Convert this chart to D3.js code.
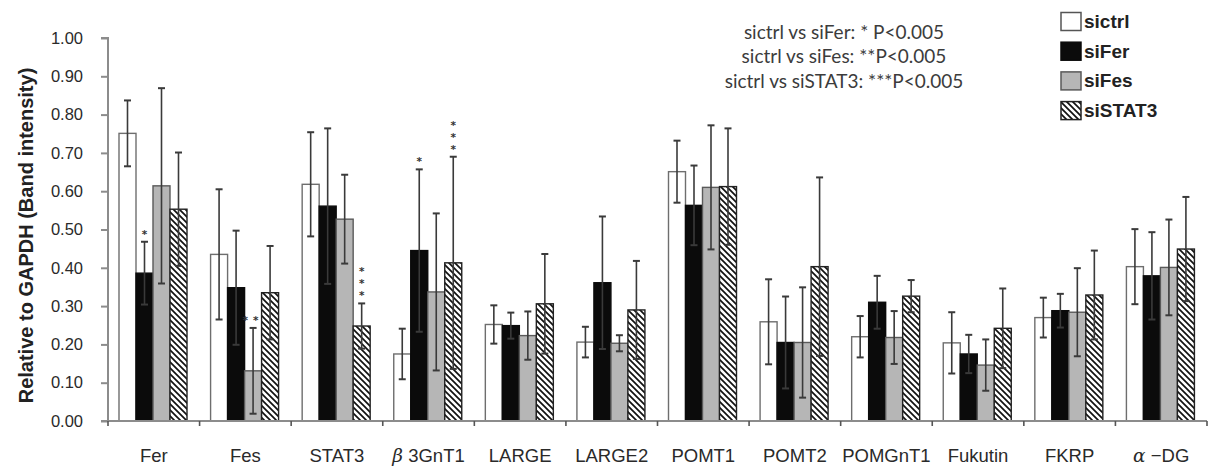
<!DOCTYPE html>
<html>
<head>
<meta charset="utf-8">
<script src="https://cdn.jsdelivr.net/npm/d3@7"></script>
<style>
  html, body { margin: 0; padding: 0; background: #fff; }
  svg { display: block; }
</style>
</head>
<body>
<svg id="chart" width="1211" height="466"></svg>
<script>
// Gene knockdown panel: band intensity relative to GAPDH, mean ± error
const categories = ["Fer", "Fes", "STAT3", "β3GnT1", "LARGE", "LARGE2", "POMT1", "POMT2", "POMGnT1", "Fukutin", "FKRP", "α-DG"];
const seriesNames = ["sictrl", "siFer", "siFes", "siSTAT3"];

const sictrl    = [0.751, 0.435, 0.618, 0.175, 0.252, 0.206, 0.651, 0.259, 0.220, 0.204, 0.270, 0.403];
const sictrlErr = [0.086, 0.170, 0.136, 0.066, 0.050, 0.040, 0.081, 0.111, 0.054, 0.080, 0.052, 0.098];
const siFer     = [0.386, 0.348, 0.561, 0.445, 0.249, 0.361, 0.563, 0.205, 0.310, 0.175, 0.288, 0.379];
const siFerErr  = [0.082, 0.149, 0.203, 0.212, 0.034, 0.173, 0.104, 0.120, 0.069, 0.050, 0.044, 0.114];
const siFes     = [0.614, 0.131, 0.527, 0.337, 0.223, 0.203, 0.610, 0.205, 0.218, 0.146, 0.284, 0.401];
const siFesErr  = [0.255, 0.112, 0.116, 0.205, 0.063, 0.021, 0.162, 0.144, 0.069, 0.067, 0.115, 0.125];
const siSTAT3   = [0.553, 0.335, 0.248, 0.413, 0.306, 0.290, 0.612, 0.403, 0.326, 0.242, 0.329, 0.449];
const siSTAT3Err= [0.148, 0.122, 0.059, 0.277, 0.130, 0.128, 0.152, 0.233, 0.042, 0.104, 0.116, 0.136];

const yTicks = [0, 0.1, 0.2, 0.3, 0.4, 0.5, 0.6, 0.7, 0.8, 0.9, 1.0];

// significance marks: category, series, star count, stacking
const marks = [
  { cat: "Fer",    series: "siFer",   stars: 1, stack: "h" },
  { cat: "Fes",    series: "siFes",   stars: 2, stack: "h" },
  { cat: "STAT3",  series: "siSTAT3", stars: 3, stack: "v" },
  { cat: "β3GnT1", series: "siFer",   stars: 1, stack: "h" },
  { cat: "β3GnT1", series: "siSTAT3", stars: 3, stack: "v" }
];

const noteLines = [
  "sictrl vs siFer: * P<0.005",
  "sictrl vs siFes: **P<0.005",
  "sictrl vs siSTAT3: ***P<0.005"
];

const means = { sictrl: sictrl, siFer: siFer, siFes: siFes, siSTAT3: siSTAT3 };
const errs  = { sictrl: sictrlErr, siFer: siFerErr, siFes: siFesErr, siSTAT3: siSTAT3Err };

const rows = [];
categories.forEach((c, i) => {
  seriesNames.forEach(s => rows.push({ cat: c, series: s, v: means[s][i], e: errs[s][i] }));
});

const svg = d3.select("#chart");
const plotLeft = 108, plotRight = 1207, plotTop = 38, plotBottom = 421;

const y = d3.scaleLinear().domain([0, 1]).range([plotBottom, plotTop]);
const x0 = d3.scaleBand().domain(categories).range([plotLeft, plotRight]).padding(0);
const x1 = d3.scaleBand().domain(seriesNames).range([11, 79]).padding(0);

// fills
const defs = svg.append("defs");
const pat = defs.append("pattern")
  .attr("id", "hatch").attr("patternUnits", "userSpaceOnUse")
  .attr("width", 6).attr("height", 6);
pat.append("rect").attr("width", 6).attr("height", 6).attr("fill", "#fff");
pat.append("path")
  .attr("d", "M0,0 L6,6 M-3,3 L3,9 M3,-3 L9,3")
  .attr("stroke", "#111").attr("stroke-width", 1.7);

const style = {
  sictrl:  { fill: "#ffffff", stroke: "#6e6e6e" },
  siFer:   { fill: "#0b0b0b", stroke: "#0b0b0b" },
  siFes:   { fill: "#b6b6b6", stroke: "#5a5a5a" },
  siSTAT3: { fill: "url(#hatch)", stroke: "#222" }
};

// bars
svg.append("g").selectAll("rect").data(rows).join("rect")
  .attr("x", d => x0(d.cat) + x1(d.series))
  .attr("y", d => y(d.v))
  .attr("width", x1.bandwidth())
  .attr("height", d => y(0) - y(d.v))
  .attr("fill", d => style[d.series].fill)
  .attr("stroke", d => style[d.series].stroke)
  .attr("stroke-width", 1.4);

// error bars
const eb = svg.append("g").attr("stroke", "#3a3a3a");
const cx = d => x0(d.cat) + x1(d.series) + x1.bandwidth() / 2;
eb.selectAll("line.w").data(rows).join("line").attr("class", "w")
  .attr("x1", cx).attr("x2", cx)
  .attr("y1", d => y(d.v + d.e)).attr("y2", d => y(Math.max(0, d.v - d.e)))
  .attr("stroke-width", 1.6);
eb.selectAll("line.t").data(rows).join("line").attr("class", "t")
  .attr("x1", d => cx(d) - 3.5).attr("x2", d => cx(d) + 3.5)
  .attr("y1", d => y(d.v + d.e)).attr("y2", d => y(d.v + d.e))
  .attr("stroke-width", 2);
eb.selectAll("line.b").data(rows).join("line").attr("class", "b")
  .attr("x1", d => cx(d) - 3.5).attr("x2", d => cx(d) + 3.5)
  .attr("y1", d => y(Math.max(0, d.v - d.e))).attr("y2", d => y(Math.max(0, d.v - d.e)))
  .attr("stroke-width", 2);

// axes
const axisColor = "#8c8c8c";
const yAxis = svg.append("g").attr("transform", `translate(${plotLeft},0)`)
  .call(d3.axisLeft(y).tickValues(yTicks).tickFormat(d3.format(".2f")).tickSize(7).tickPadding(18));
yAxis.select(".domain").attr("stroke", axisColor).attr("stroke-width", 2)
  .attr("d", `M-7,${plotTop}H0V${plotBottom}H-7`);
yAxis.selectAll(".tick line").attr("stroke", axisColor).attr("stroke-width", 2);
yAxis.selectAll(".tick text")
  .attr("font-family", "Liberation Sans, Arial, sans-serif")
  .attr("font-size", 16.5).attr("fill", "#2a2a2a");

const xAxis = svg.append("g").attr("transform", `translate(0,${plotBottom})`);
xAxis.append("line").attr("x1", plotLeft).attr("x2", plotRight).attr("y1", 0).attr("y2", 0)
  .attr("stroke", axisColor).attr("stroke-width", 2);
const bounds = categories.map(c => x0(c)).concat([plotRight]);
xAxis.selectAll("line.tk").data(bounds).join("line").attr("class", "tk")
  .attr("x1", d => d).attr("x2", d => d).attr("y1", 0).attr("y2", 5)
  .attr("stroke", "#555").attr("stroke-width", 1.6);

const labels = svg.append("g")
  .attr("font-family", "Liberation Sans, Arial, sans-serif")
  .attr("font-size", 18.5).attr("fill", "#2a2a2a").attr("text-anchor", "middle");
categories.forEach(c => {
  const t = labels.append("text").attr("x", x0(c) + x0.bandwidth() / 2).attr("y", 461.5);
  const greek = /^[αβ]/.test(c);
  if (greek) {
    t.append("tspan").attr("font-style", "italic").attr("font-family", "DejaVu Serif, serif").text(c[0]);
    t.append("tspan").text(c[1] === "-" ? " \u2212" + c.slice(2) : " " + c.slice(1));
  } else {
    t.text(c);
  }
});

// y-axis title
svg.append("text")
  .attr("transform", `translate(26,${(plotTop + plotBottom) / 2 + 6}) rotate(-90)`)
  .attr("text-anchor", "middle").attr("dominant-baseline", "central")
  .attr("font-family", "Liberation Sans, Arial, sans-serif")
  .attr("font-weight", "bold").attr("font-size", 20).attr("fill", "#222")
  .text("Relative to GAPDH (Band intensity)");

// significance asterisks
const starSize = 10.5, starGap = 12;
const sg = svg.append("g").attr("font-family", "DejaVu Sans, sans-serif")
  .attr("font-size", starSize).attr("font-weight", "bold")
  .attr("fill", "#333").attr("text-anchor", "middle");
marks.forEach(m => {
  const i = categories.indexOf(m.cat);
  const topY = y(means[m.series][i] + errs[m.series][i]);
  const xc = x0(m.cat) + x1(m.series) + x1.bandwidth() / 2;
  if (m.stack === "h") {
    sg.append("text").attr("x", xc).attr("y", topY - 4)
      .attr("letter-spacing", m.stars > 1 ? 5 : 0)
      .text("*".repeat(m.stars));
  } else {
    for (let k = 0; k < m.stars; k++) {
      sg.append("text").attr("x", xc).attr("y", topY - 4 - k * starGap).text("*");
    }
  }
});

// p-value note
const note = svg.append("g").attr("font-family", "Lato, sans-serif")
  .attr("font-size", 19).attr("fill", "#3c3c3c").attr("text-anchor", "middle");
noteLines.forEach((s, i) => {
  note.append("text").attr("x", 844).attr("y", 31 + i * 24.5)
    .attr("dominant-baseline", "central").text(s);
});

// legend
const lg = svg.append("g").attr("transform", "translate(1061,0)");
seriesNames.forEach((s, i) => {
  const cy = 21.5 + i * 29.7;
  lg.append("rect").attr("x", 0).attr("y", cy - 9).attr("width", 20).attr("height", 18)
    .attr("fill", style[s].fill).attr("stroke", s === "sictrl" ? "#555" : style[s].stroke)
    .attr("stroke-width", 1.5);
  lg.append("text").attr("x", 23).attr("y", cy).attr("dominant-baseline", "central")
    .attr("font-family", "Liberation Sans, Arial, sans-serif")
    .attr("font-weight", "bold").attr("font-size", 19).attr("fill", "#222").text(s);
});
</script>
</body>
</html>
